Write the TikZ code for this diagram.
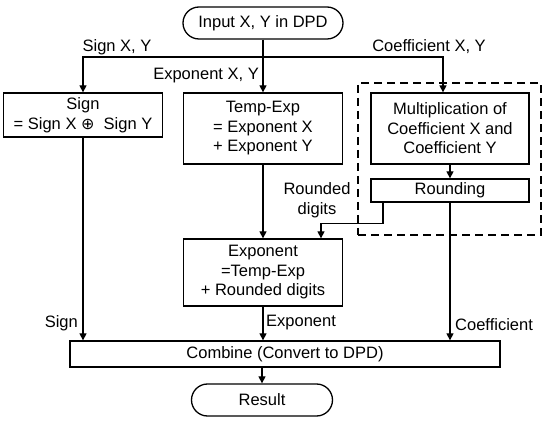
\documentclass[tikz,border=0pt]{standalone}
\usepackage{fontspec}
\setmainfont{Liberation Sans}
\newfontfamily\symfont{DejaVu Sans}
\usetikzlibrary{arrows.meta}
\begin{document}
\begin{tikzpicture}
[x=1pt,y=-1pt,
  boxdecorate/.style={shape=rectangle,draw,line width=1.3pt,inner sep=0pt,align=center,font=\fontsize{16.5}{19.5}\selectfont},%
  termdecorate/.style={boxdecorate,rounded corners=16pt},%
  groupdecorate/.style={shape=rectangle,draw,line width=2pt,dash pattern=on 8pt off 5pt},%
  linedecorate/.style={-{Triangle[length=7pt,width=7pt]},line width=1.3pt},%
  labeldecorate/.style={inner sep=0pt,align=center,font=\fontsize{16.5}{19.5}\selectfont}]
\useasboundingbox (0,0) rectangle (550,422);
%% group around the coefficient part
\node (coefgroup) at (449.5,159) [groupdecorate,minimum width=183pt,minimum height=152pt] {};
%% nodes or boxes
\foreach \nodename/\x/\y/\w/\h/\txt in {
  sign/83/115/159/44/{Sign\\= Sign X {\symfont\fontsize{16}{16}\selectfont ⊕}\ \ Sign Y},
  tempexp/263/128.5/159/71/{Temp-Exp\\= Exponent X\\+ Exponent Y},
  mult/450/128.5/158/71/{Multiplication of\\Coefficient X and\\Coefficient Y},
  round/450/190.5/158/23/{Rounding},
  exp/263/272.5/159/67/{Exponent\\=Temp-Exp\\+ Rounded digits},
  combine/285/354/430/26/{Combine (Convert to DPD)}} {
  \node (\nodename) at (\x,\y) [boxdecorate,minimum width=\w pt,minimum height=\h pt] {\txt};
}
\node (input) at (263,23) [termdecorate,minimum width=160pt,minimum height=32pt] {Input X, Y in DPD};
\node (result) at (262,400) [termdecorate,minimum width=141pt,minimum height=32pt] {Result};
%% edges or lines
\coordinate (split) at (263,57);
\path
\foreach \startnode/\endnode in {input/tempexp, tempexp/exp, mult/round} {
  (\startnode.south) edge[linedecorate] (\endnode.north)
};
\draw[linedecorate] (split) -| (sign.north);
\draw[linedecorate] (split) -| ([xshift=-7pt]mult.north);
\draw[linedecorate] ([xshift=-67pt]round.south) -- ++(0,21) -| ([xshift=58pt]exp.north);
\foreach \startnode in {sign, exp, round} {
  \draw[linedecorate] (\startnode.south) -- (\startnode.south |- combine.north);
}
\draw[linedecorate] (combine.south -| result.north) -- (result.north);
%% labels
\node (signxy) at (117,47) [labeldecorate] {Sign X, Y};
\node (expxy) at (259,76) [labeldecorate,anchor=east] {Exponent X, Y};
\node (coefxy) at (429,47) [labeldecorate] {Coefficient X, Y};
\node (rnddigits) at (317,200) [labeldecorate] {Rounded\\digits};
\node (signout) at (78,323) [labeldecorate,anchor=east] {Sign};
\node (expout) at (266,323) [labeldecorate,anchor=west] {Exponent};
\node (coefout) at (455,325) [labeldecorate,anchor=west] {Coefficient};
\end{tikzpicture}
\end{document}
